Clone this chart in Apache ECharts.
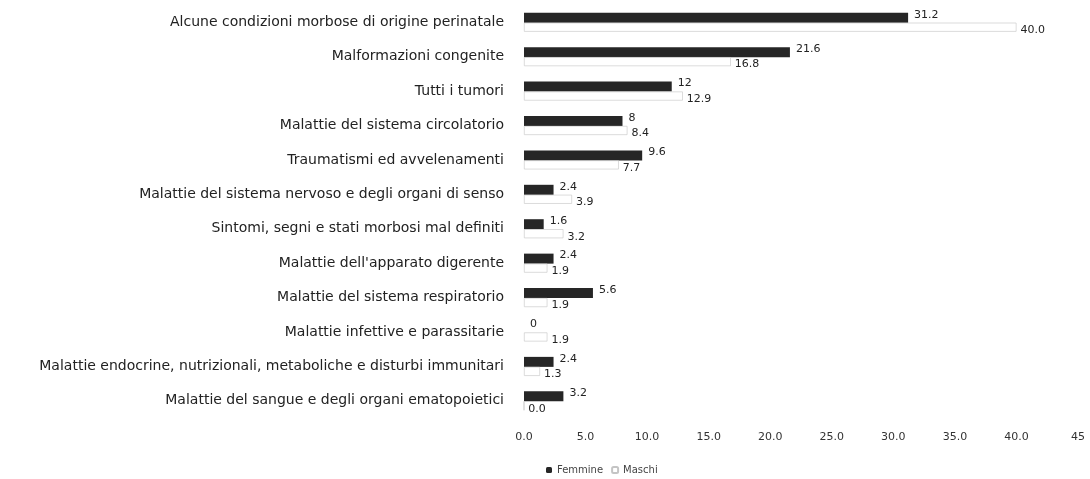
<!DOCTYPE html>
<html>
<head>
<meta charset="utf-8">
<script src="https://cdn.jsdelivr.net/npm/echarts@6/dist/echarts.min.js"></script>
<style>
html, body { margin: 0; padding: 0; background: #fff; }
#chart { width: 1090px; height: 479px; }
</style>
</head>
<body>
<div id="chart"></div>
<script>
var categorie = [
    'Alcune condizioni morbose di origine perinatale',
    'Malformazioni congenite',
    'Tutti i tumori',
    'Malattie del sistema circolatorio',
    'Traumatismi ed avvelenamenti',
    'Malattie del sistema nervoso e degli organi di senso',
    'Sintomi, segni e stati morbosi mal definiti',
    "Malattie dell'apparato digerente",
    'Malattie del sistema respiratorio',
    'Malattie infettive e parassitarie',
    'Malattie endocrine, nutrizionali, metaboliche e disturbi immunitari',
    'Malattie del sangue e degli organi ematopoietici'
];
var femmine = [31.2, 21.6, 12, 8, 9.6, 2.4, 1.6, 2.4, 5.6, 0, 2.4, 3.2];
var maschi = [40.0, 16.8, 12.9, 8.4, 7.7, 3.9, 3.2, 1.9, 1.9, 1.9, 1.3, 0.0];

var font = 'DejaVu Sans';
var chart = echarts.init(document.getElementById('chart'));

chart.setOption({
    animation: false,
    grid: { left: 524, right: 12, top: 5, height: 413 },
    legend: {
        left: 541,
        top: 460,
        itemWidth: 6,
        itemHeight: 6,
        itemGap: 8,
        textStyle: { fontFamily: font, fontSize: 10, color: '#444' },
        data: ['Femmine', 'Maschi']
    },
    xAxis: {
        type: 'value',
        min: 0,
        max: 45,
        interval: 5,
        axisLine: { show: false },
        axisTick: { show: false },
        splitLine: { show: false },
        axisLabel: {
            fontFamily: font, fontSize: 11, color: '#333', margin: 14,
            formatter: function (v) { return v === 45 ? '45' : v.toFixed(1); }
        }
    },
    yAxis: {
        type: 'category',
        inverse: true,
        data: categorie,
        axisLine: { show: false },
        axisTick: { show: false },
        axisLabel: { fontFamily: font, fontSize: 14, color: '#222', margin: 20 }
    },
    series: [{
        name: 'Femmine',
        type: 'bar',
        data: femmine,
        barWidth: 10,
        barGap: '0%',
        itemStyle: { color: '#262626' },
        label: {
            show: true, position: 'right', distance: 6, offset: [0, -3],
            fontFamily: font, fontSize: 11, color: '#222'
        }
    }, {
        name: 'Maschi',
        type: 'bar',
        data: maschi,
        barWidth: 9,
        itemStyle: { color: '#fff', borderColor: '#c4c4c4', borderWidth: 0.6 },
        label: {
            show: true, position: 'right', distance: 4, offset: [0, 3],
            fontFamily: font, fontSize: 11, color: '#222',
            formatter: function (p) { return p.value.toFixed(1); }
        }
    }]
});
</script>
</body>
</html>
